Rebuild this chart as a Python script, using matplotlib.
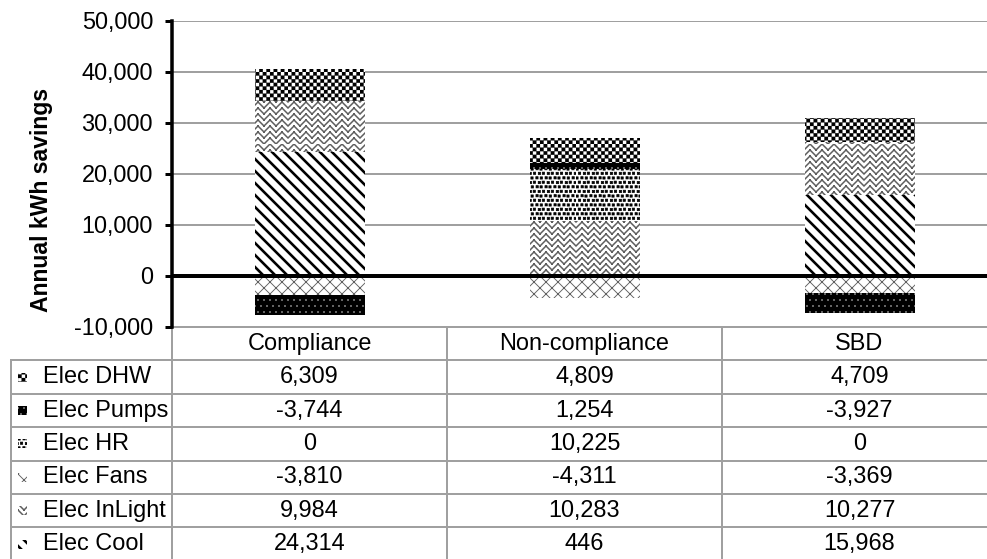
import numpy as np
import matplotlib
matplotlib.use('Agg')
import matplotlib.pyplot as plt
from matplotlib import hatch as mhatch
from matplotlib.path import Path
from matplotlib.patches import Rectangle
from matplotlib.table import Table
from matplotlib.ticker import FuncFormatter

# ---------------- data ----------------
categories = ['Compliance', 'Non-compliance', 'SBD']
series_names = ['Elec Cool', 'Elec InLight', 'Elec Fans', 'Elec HR', 'Elec Pumps', 'Elec DHW']
elec_cool = [24314, 446, 15968]
elec_inlight = [9984, 10283, 10277]
elec_fans = [-3810, -4311, -3369]
elec_hr = [0, 10225, 0]
elec_pumps = [-3744, 1254, -3927]
elec_dhw = [6309, 4809, 4709]
yticks = [-10000, 0, 10000, 20000, 30000, 40000, 50000]
ylabel = 'Annual kWh savings'

series_values = [elec_cool, elec_inlight, elec_fans, elec_hr, elec_pumps, elec_dhw]
table_order = ['Elec DHW', 'Elec Pumps', 'Elec HR', 'Elec Fans', 'Elec InLight', 'Elec Cool']


# ---------------- custom hatch patterns ----------------
class CheckerHatch(mhatch.HatchPatternBase):
    def __init__(self, hatch, density):
        n = int(round(hatch.count('*') * density * 0.8))
        m = 2 * n
        self.m = m
        self.squares = [(i, j) for i in range(m) for j in range(m) if (i + j) % 2 == 0]
        self.num_vertices = 5 * len(self.squares)

    def set_vertices_and_codes(self, vertices, codes):
        s = 1.0 / self.m
        k = 0
        for (i, j) in self.squares:
            x0, y0 = i * s, j * s
            vertices[k:k + 5] = [(x0, y0), (x0 + s, y0), (x0 + s, y0 + s), (x0, y0 + s), (x0, y0)]
            codes[k:k + 5] = [Path.MOVETO, Path.LINETO, Path.LINETO, Path.LINETO, Path.CLOSEPOLY]
            k += 5


class ConfettiHatch(mhatch.HatchPatternBase):
    def __init__(self, hatch, density):
        c = hatch.count('O')
        self.n = 8 * c
        self.num_vertices = 5 * self.n * self.n

    def set_vertices_and_codes(self, vertices, codes):
        n = self.n
        s = 0.5 / n
        jit = [0.0, 0.08, -0.04, 0.06, -0.07, 0.03]
        k = 0
        for j in range(n):
            for i in range(n):
                dx = jit[(i + 2 * j) % 6]
                dy = jit[(3 * i + j) % 6] * 0.5
                x0 = (i + 0.5 * (j % 2) + 0.04 + dx) / n
                y0 = (j + 0.22 + dy) / n
                vertices[k:k + 5] = [(x0, y0), (x0 + s, y0), (x0 + s, y0 + s), (x0, y0 + s), (x0, y0)]
                codes[k:k + 5] = [Path.MOVETO, Path.LINETO, Path.LINETO, Path.LINETO, Path.CLOSEPOLY]
                k += 5


class WeaveHatch(mhatch.HatchPatternBase):
    def __init__(self, hatch, density):
        self.n = hatch.count('o') * density
        self.num_vertices = 8 * self.n * self.n

    def set_vertices_and_codes(self, vertices, codes):
        n = self.n
        s = 1.0 / n
        segs = [((0, 0), (0.5, 0.5)), ((0.5, 0.5), (1, 0)),
                ((0, 0.5), (0.5, 1)), ((0.5, 1), (1, 0.5))]
        k = 0
        for j in range(n):
            for i in range(n):
                for (a, b) in segs:
                    vertices[k] = ((i + a[0]) * s, (j + a[1]) * s)
                    vertices[k + 1] = ((i + b[0]) * s, (j + b[1]) * s)
                    codes[k] = Path.MOVETO
                    codes[k + 1] = Path.LINETO
                    k += 2


for idx, t in enumerate(mhatch._hatch_types):
    if t.__name__ == 'Stars':
        mhatch._hatch_types[idx] = CheckerHatch
    elif t.__name__ == 'LargeCircles':
        mhatch._hatch_types[idx] = ConfettiHatch
    elif t.__name__ == 'SmallCircles':
        mhatch._hatch_types[idx] = WeaveHatch

# ---------------- styles ----------------
styles = {
    'Elec Cool':    dict(face='white', hatch='\\\\', hcolor='black', hlw=2.6),
    'Elec InLight': dict(face='white', hatch='o', hcolor='#5e5e5e', hlw=1.5),
    'Elec Fans':    dict(face='white', hatch='xx', hcolor='#606060', hlw=0.9),
    'Elec HR':      dict(face='white', hatch='OO', hcolor='black', hlw=0.7),
    'Elec Pumps':   dict(face='black', hatch='..', hcolor='#d0d0d0', hlw=0.3),
    'Elec DHW':     dict(face='white', hatch='**', hcolor='black', hlw=0.2),
}

plt.rcParams['font.family'] = ['Liberation Sans', 'DejaVu Sans']

DPI = 72
W, H = 987, 559
fig = plt.figure(figsize=(W / DPI, H / DPI), dpi=DPI)

ax_left, ax_right = 172, 997
ax_top, ax_bottom = 21, 327
ax = fig.add_axes([ax_left / W, 1 - ax_bottom / H, (ax_right - ax_left) / W, (ax_bottom - ax_top) / H])

x = np.arange(len(categories))
pos_base = np.zeros(len(categories))
neg_base = np.zeros(len(categories))


def style_patch(p, st):
    p.set_hatch(st['hatch'])
    if hasattr(p, 'set_hatch_linewidth'):
        p.set_hatch_linewidth(st['hlw'])


for name, vals in zip(series_names, series_values):
    vals = np.array(vals, dtype=float)
    bottoms = np.where(vals >= 0, pos_base, neg_base)
    st = styles[name]
    with plt.rc_context({'hatch.linewidth': st['hlw']}):
        bars = ax.bar(x, vals, width=0.4, bottom=bottoms, color=st['face'],
                      edgecolor=st['hcolor'], linewidth=0, hatch=st['hatch'], zorder=2)
    for b in bars:
        style_patch(b, st)
    pos_base += np.where(vals >= 0, vals, 0)
    neg_base += np.where(vals < 0, vals, 0)

ax.set_xlim(-0.5, 2.5)
ax.set_ylim(-10000, 50000)
ax.set_yticks(yticks)
ax.yaxis.set_major_formatter(FuncFormatter(lambda v, p: f'{int(v):,}'))
ax.set_xticks([])
for s in ['top', 'right', 'bottom']:
    ax.spines[s].set_visible(False)
ax.spines['left'].set_linewidth(3.5)
ax.spines['left'].set_color('black')
ax.tick_params(axis='y', direction='out', length=7, width=3, color='black',
               labelsize=23.5, pad=12)
ax.set_axisbelow(True)
ax.yaxis.grid(True, color='#a0a0a0', linewidth=2)
ax.axhline(0, color='black', linewidth=4, zorder=3)

fig.text(42 / W, 1 - 200 / H, ylabel, rotation=90, fontsize=23, fontweight='bold',
         ha='center', va='center')

# ---------------- data table ----------------
ax_w_px = ax_right - ax_left
ax_h_px = ax_bottom - ax_top
row_h_px = 33.4
label_left = 11
label_w_px = ax_left - label_left
col_w_px = ax_w_px / 3
n_rows = len(table_order) + 1

rh = row_h_px / ax_h_px
cw = col_w_px / ax_w_px
lw_ = label_w_px / ax_w_px
tbl = Table(ax, bbox=[0, -n_rows * rh, 3 * cw, n_rows * rh])
edge = '#a0a0a0'
for c, cat in enumerate(categories):
    tbl.add_cell(0, c, width=cw, height=rh, text=cat, loc='center',
                 edgecolor=edge, facecolor='none')
lookup = dict(zip(series_names, series_values))
for r, name in enumerate(table_order, start=1):
    cell = tbl.add_cell(r, -1, width=lw_, height=rh, text=name, loc='left',
                        edgecolor=edge, facecolor='none')
    cell.PAD = 0.2
    for c, v in enumerate(lookup[name]):
        tbl.add_cell(r, c, width=cw, height=rh, text=f'{v:,}', loc='center',
                     edgecolor=edge, facecolor='none')
tbl.auto_set_font_size(False)
tbl.set_fontsize(23.5)
for cell in tbl.get_celld().values():
    cell.set_linewidth(2)
ax.add_table(tbl)

# legend keys inside the row-label cells
for r, name in enumerate(table_order, start=1):
    st = styles[name]
    yc = ax_bottom + (r + 0.5) * row_h_px
    with plt.rc_context({'hatch.linewidth': st['hlw']}):
        key = Rectangle((18 / W, 1 - (yc + 4.5) / H), 9 / W, 9 / H, transform=fig.transFigure,
                        facecolor=st['face'], edgecolor=st['hcolor'], linewidth=0,
                        hatch=st['hatch'])
    style_patch(key, st)
    fig.add_artist(key)

fig.savefig('out.png', dpi=DPI)
